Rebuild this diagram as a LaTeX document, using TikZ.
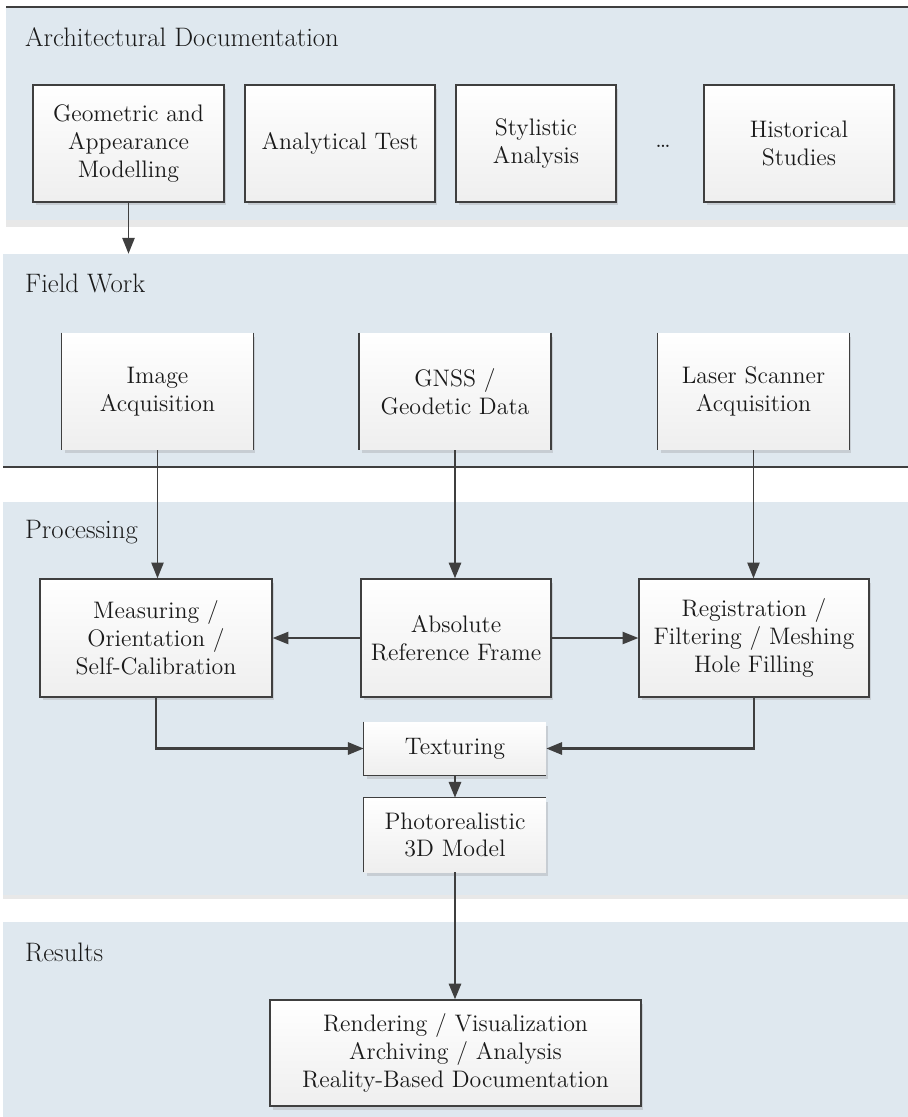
\documentclass[tikz,border=0pt]{standalone}
\usepackage{tikz}
\usetikzlibrary{arrows.meta,shadows}

\definecolor{bandblue}{HTML}{DFE8EF}
\definecolor{linegray}{HTML}{3F3F3F}
\definecolor{textgray}{HTML}{1A1A1A}

\begin{document}
\begin{tikzpicture}[x=0.02cm, y=-0.02cm,
    every node/.style={text=textgray, font=\fontsize{13.6}{15.8}\selectfont},
    box/.style={align=center, inner sep=2pt, top color=white, bottom color=gray!13,
        drop shadow={opacity=0.25, shadow xshift=0.05cm, shadow yshift=-0.07cm}},
    framed/.style={box, draw=linegray, line width=0.8pt},
    open/.style={box, draw=none},
    side/.style={draw=linegray, line width=0.8pt},
    flow/.style={draw=linegray, line width=0.9pt, -{Triangle[length=9pt, width=7pt]}},
    mainflow/.style={flow, line width=1.3pt},
    lane/.style={anchor=west, font=\fontsize{15.2}{17}\selectfont}]

    \useasboundingbox (0,0) rectangle (908,1117);

    %Bands
    \fill[gray!18] (6,218) rectangle (908,227);
    \fill[bandblue] (6,8) rectangle (908,220);
    \fill[bandblue] (3,254) rectangle (908,467);
    \fill[gray!18] (3,893) rectangle (908,899);
    \fill[bandblue] (3,502) rectangle (908,895);
    \fill[bandblue] (3,922) rectangle (908,1117);

    \draw[linegray, line width=1pt] (6,7) -- (908,7); %Top rule
    \draw[linegray, line width=1.4pt] (3,467) -- (908,467); %Field work rule

    %Band titles
    \node[lane] at (19,37) {Architectural Documentation};
    \node[lane] at (19,283) {Field Work};
    \node[lane] at (19,532) {Processing};
    \node[lane] at (19,952) {Results};

    %Documentation boxes
    \node[framed, minimum width=3.82cm, minimum height=2.34cm] (geo) at (128.5,143.5) {Geometric and\\Appearance\\Modelling};
    \node[framed, minimum width=3.8cm, minimum height=2.34cm] (ana) at (340,143.5) {Analytical Test};
    \node[framed, minimum width=3.2cm, minimum height=2.34cm] (sty) at (536,143.5) {Stylistic\\Analysis};
    \node (dots) at (663,146) {\dots};
    \node[framed, minimum width=3.8cm, minimum height=2.34cm] (his) at (799,143.5) {Historical\\Studies};

    %Field work boxes, sides only
    \node[open, minimum width=3.82cm, minimum height=2.34cm] (img) at (157.5,391.5) {Image\\Acquisition};
    \node[open, minimum width=3.82cm, minimum height=2.34cm] (gnss) at (455,391.5) {GNSS /\\Geodetic Data};
    \node[open, minimum width=3.82cm, minimum height=2.34cm] (laser) at (753.5,391.5) {Laser Scanner\\Acquisition};
    \foreach \n in {img,gnss,laser}{
        \draw[side] (\n.north west) -- (\n.south west);
        \draw[side] (\n.north east) -- (\n.south east);
    }

    %Processing boxes
    \node[framed, minimum width=4.64cm, minimum height=2.36cm] (meas) at (156,638) {Measuring /\\Orientation /\\Self-Calibration};
    \node[framed, minimum width=3.8cm, minimum height=2.36cm] (abs) at (456,638) {Absolute\\Reference Frame};
    \node[framed, minimum width=4.6cm, minimum height=2.36cm] (reg) at (754,638) {Registration /\\Filtering / Meshing\\Hole Filling};

    \node[open, minimum width=3.64cm, minimum height=1.06cm] (tex) at (455,748.5) {Texturing};
    \draw[side] (tex.north west) -- (tex.south west) -- (tex.south east);
    \node[open, minimum width=3.64cm, minimum height=1.48cm] (photo) at (455,835) {Photorealistic\\3D Model};
    \draw[side] (photo.south west) -- (photo.north west) -- (photo.north east);

    %Results box
    \node[framed, minimum width=7.42cm, minimum height=2.12cm] (res) at (455.5,1053) {Rendering / Visualization\\Archiving / Analysis\\Reality-Based Documentation};

    %Arrows
    \draw[flow] (geo.south) -- +(0,51);
    \draw[flow] (img.south) -- (img.south |- meas.north);
    \draw[mainflow] (gnss.south) -- (gnss.south |- abs.north);
    \draw[flow] (laser.south) -- (laser.south |- reg.north);
    \draw[flow] (abs.west) -- (meas.east);
    \draw[flow] (abs.east) -- (reg.east -| reg.west);
    \draw[mainflow] (meas.south) |- (tex.west);
    \draw[mainflow] (reg.south) |- (tex.east);
    \draw[mainflow] (tex.south) -- (photo.north);
    \draw[mainflow] (photo.south) -- (photo.south |- res.north);

\end{tikzpicture}
\end{document}
